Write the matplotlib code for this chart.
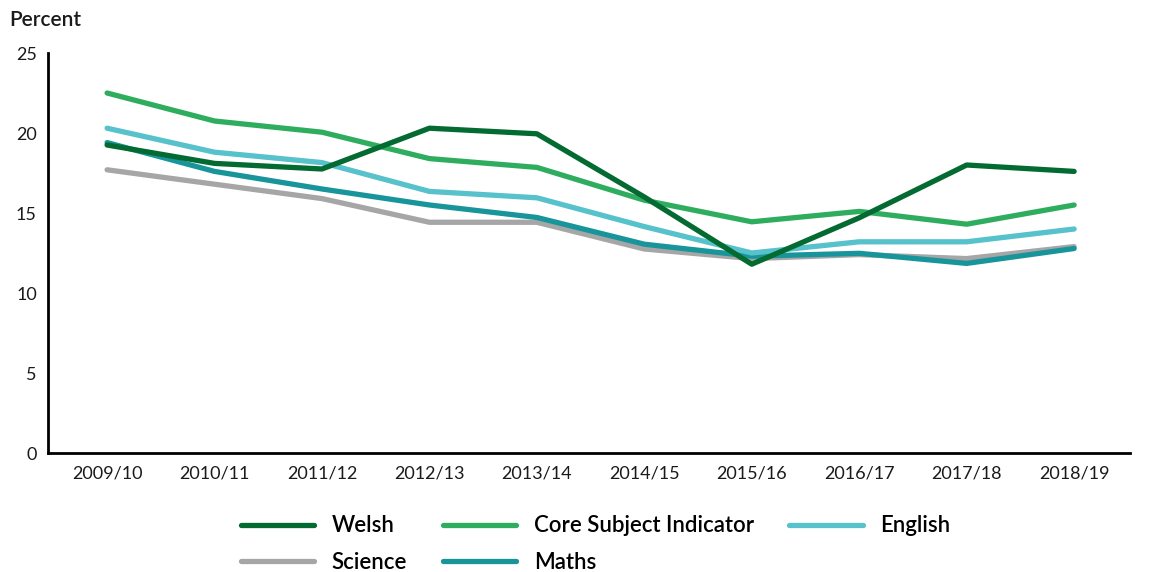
import numpy as np
import matplotlib
matplotlib.use("Agg")
import matplotlib.pyplot as plt

plt.rcParams['font.family'] = ['Lato', 'DejaVu Sans']

# school years on the x axis
years = ['2009/10', '2010/11', '2011/12', '2012/13', '2013/14',
         '2014/15', '2015/16', '2016/17', '2017/18', '2018/19']

# percent values
welsh = [19.25, 18.1, 17.75, 20.3, 19.95, 16.0, 11.8, 14.7, 18.0, 17.6]
core = [22.5, 20.75, 20.05, 18.4, 17.85, 15.8, 14.45, 15.1, 14.3, 15.5]
english = [20.3, 18.8, 18.15, 16.35, 15.95, 14.15, 12.5, 13.2, 13.2, 14.0]
science = [17.7, 16.8, 15.9, 14.42, 14.42, 12.75, 12.15, 12.4, 12.15, 12.9]
maths = [19.4, 17.6, 16.5, 15.5, 14.72, 13.05, 12.3, 12.48, 11.85, 12.78]

fig = plt.figure(figsize=(11.5, 5.72), dpi=100)
ax = fig.add_axes([48/1150, 1-453/572, (1130-48)/1150, 400/572])

x = np.arange(len(years))
lw = 3.8
l_sci, = ax.plot(x, science, color='#a6a6a6', lw=lw, label='Science', solid_capstyle='round')
l_mat, = ax.plot(x, maths, color='#17959a', lw=lw, label='Maths', solid_capstyle='round')
l_eng, = ax.plot(x, english, color='#57c1cc', lw=lw, label='English', solid_capstyle='round')
l_core, = ax.plot(x, core, color='#2fad5f', lw=lw, label='Core Subject Indicator', solid_capstyle='round')
l_wel, = ax.plot(x, welsh, color='#036a31', lw=lw, label='Welsh', solid_capstyle='round')

ax.set_xlim(-0.55, 9.52)
ax.set_ylim(0, 25)
ax.set_yticks([0, 5, 10, 15, 20, 25])
ax.set_xticks(x)
ax.set_xticklabels(years)
ax.tick_params(length=0, labelsize=13, colors='#1a1a1a', pad=9)
ax.tick_params(axis='y', pad=8)
for s in ['top', 'right']:
    ax.spines[s].set_visible(False)
ax.spines['left'].set_linewidth(2)
ax.spines['bottom'].set_linewidth(2)

fig.text(9/1150, 1-20/572, 'Percent', fontsize=15, fontweight='semibold',
         va='center', ha='left', color='#1a1a1a')

handles = [l_wel, l_sci, l_core, l_mat, l_eng]
fig.legend(handles, [h.get_label() for h in handles], ncol=3,
           loc='center', bbox_to_anchor=(0.518, 1-544/572), frameon=False,
           handlelength=3.3, handletextpad=0.8, borderpad=0.2,
           columnspacing=1.6, labelspacing=0.68,
           prop={'weight': 'semibold', 'size': 16})

fig.savefig('out.png', dpi=100)
